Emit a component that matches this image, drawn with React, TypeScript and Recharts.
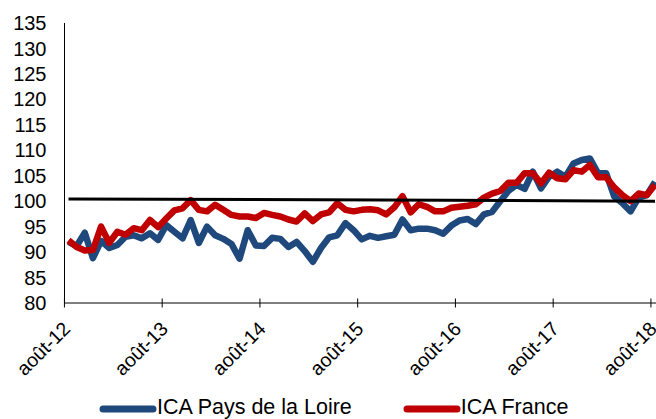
import React from "react"
import { LineChart, Line, XAxis, YAxis, Legend } from "recharts"

// mois en abrégé (format Excel)
const MONTHS = ["janv", "févr", "mars", "avr", "mai", "juin", "juil", "août", "sept", "oct", "nov", "déc"]
const START_MONTH = 7 // août
const START_YEAR = 12
const N_POINTS = 73 // août-12 .. août-18

const CATEGORIES: string[] = []
for (let k = 0; k < N_POINTS; k++) {
  const m = (START_MONTH + k) % 12
  const y = START_YEAR + Math.floor((START_MONTH + k) / 12)
  CATEGORIES.push(`${MONTHS[m]}-${y}`)
}

const PAYS_DE_LA_LOIRE = [
  92.0, 91.2, 93.8, 88.8, 92.2, 90.8, 91.4, 93.0, 93.3, 92.7, 93.7, 92.4,
  95.3, 94.0, 92.7, 96.3, 91.8, 95.0, 93.3, 92.6, 91.6, 88.7, 94.3, 91.3,
  91.2, 92.8, 92.6, 91.0, 92.0, 90.2, 88.1, 90.8, 92.9, 93.3, 95.7, 94.3,
  92.5, 93.2, 92.8, 93.1, 93.4, 96.4, 94.3, 94.6, 94.6, 94.3, 93.6, 95.2,
  96.2, 96.5, 95.5, 97.4, 97.9, 100.0, 102.0, 103.2, 102.4, 105.8, 102.5, 104.8,
  105.8, 104.8, 107.4, 108.1, 108.4, 105.5, 105.5, 100.9, 99.6, 98.0, 100.7, 101.2, 103.8,
]

const FRANCE = [
  92.3, 91.0, 90.3, 90.4, 95.0, 91.8, 94.0, 93.4, 94.7, 94.3, 96.3, 94.9,
  96.6, 98.2, 98.6, 100.2, 98.3, 98.0, 99.3, 98.3, 97.3, 97.0, 97.0, 96.7,
  97.7, 97.3, 97.0, 96.4, 96.0, 97.6, 96.1, 97.4, 97.8, 99.6, 98.3, 98.0,
  98.3, 98.4, 98.2, 97.4, 98.8, 101.0, 97.8, 99.4, 98.9, 98.0, 98.0, 98.7,
  98.9, 99.1, 99.4, 100.7, 101.5, 102.0, 103.6, 103.6, 105.5, 105.5, 103.5, 105.6,
  104.5, 104.3, 106.1, 105.8, 107.1, 104.7, 104.7, 102.7, 101.2, 100.0, 101.5, 101.2, 103.2,
]

// ligne de référence (moyenne de longue période), début et fin
const REF_START = 100.45
const REF_END = 100.0

const Y_TICKS = [80, 85, 90, 95, 100, 105, 110, 115, 120, 125, 130, 135]

const BLUE = "#1F497D"
const RED = "#C00000"
const FONT = "'Liberation Sans', Arial, sans-serif"

const data = CATEGORIES.map((mois, i) => ({
  mois,
  loire: PAYS_DE_LA_LOIRE[i],
  france: FRANCE[i],
  ref: i === 0 ? REF_START : i === N_POINTS - 1 ? REF_END : null,
}))

const HALF_STEP = 4.07

function XTick(props: any) {
  const { x, y, payload } = props
  const ax = x + 3
  const ay = y + 27
  return (
    <g>
      <line x1={x - HALF_STEP} x2={x - HALF_STEP} y1={y - 4.5} y2={y + 4.5} stroke="#000" strokeWidth={1} />
      <text
        x={ax}
        y={ay}
        textAnchor="end"
        transform={`rotate(-45 ${ax} ${ay})`}
        fontSize={19.5}
        fontFamily={FONT}
        fill="#000"
      >
        {payload.value}
      </text>
    </g>
  )
}

function LegendContent() {
  const item = (color: string, label: string, ml: number) => (
    <div style={{ display: "flex", alignItems: "center", marginLeft: ml }}>
      <svg width={58} height={8}>
        <line x1={4} x2={54} y1={4} y2={4} stroke={color} strokeWidth={7} strokeLinecap="round" />
      </svg>
      <span style={{ fontSize: 21.5, lineHeight: "21px", fontFamily: FONT, color: "#000", position: "relative", top: -2 }}>
        {label}
      </span>
    </div>
  )
  return (
    <div style={{ height: 30, paddingTop: 10, boxSizing: "border-box", display: "flex", alignItems: "center" }}>
      {item(BLUE, "ICA Pays de la Loire", 99)}
      {item(RED, "ICA France", 51)}
    </div>
  )
}

export default function App() {
  return (
    <div style={{ position: "absolute", left: 0, top: 0, width: 656, height: 419, overflow: "hidden", background: "#fff" }}>
      <LineChart width={659} height={419} data={data} margin={{ top: 23, right: 0, bottom: 0, left: 0 }}>
        <XAxis
          dataKey="mois"
          interval={11}
          padding={{ left: 4, right: 4 }}
          axisLine={{ stroke: "#000" }}
          tickLine={false}
          tickSize={0}
          tickMargin={0}
          tick={<XTick />}
          height={86}
        />
        <YAxis
          type="number"
          domain={[80, 135]}
          ticks={Y_TICKS}
          interval={0}
          width={64.5}
          axisLine={{ stroke: "#000" }}
          tickLine={false}
          tickSize={0}
          tickMargin={18}
          tick={{ fontSize: 20, fontFamily: FONT, fill: "#000" }}
        />
        <Legend verticalAlign="bottom" content={<LegendContent />} />
        <Line dataKey="loire" stroke={BLUE} strokeWidth={6.5} dot={false} isAnimationActive={false} strokeLinejoin="round" />
        <Line dataKey="france" stroke={RED} strokeWidth={6.5} dot={false} isAnimationActive={false} strokeLinejoin="round" />
        <Line dataKey="ref" stroke="#000" strokeWidth={3} dot={false} connectNulls isAnimationActive={false} />
      </LineChart>
    </div>
  )
}
